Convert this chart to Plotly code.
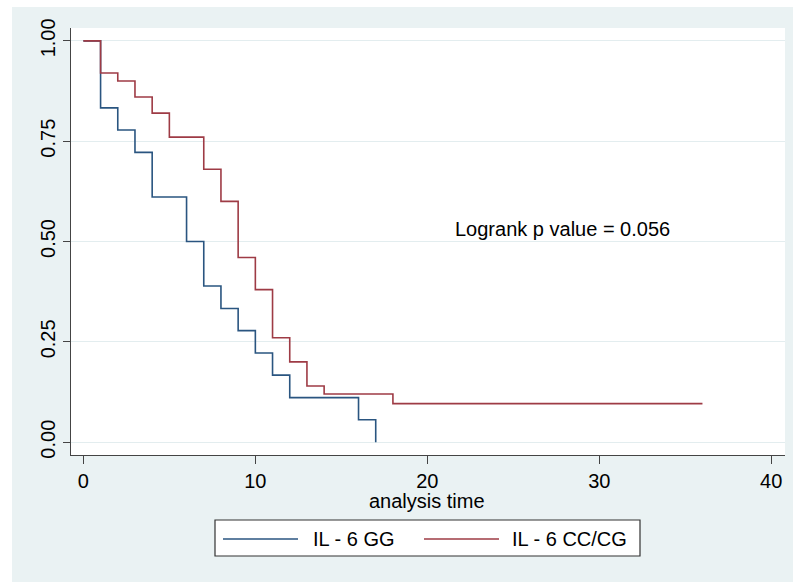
import plotly.graph_objects as go

# Kaplan-Meier estimates
gg_time = [0, 1, 2, 3, 4, 6, 7, 8, 9, 10, 11, 12, 16, 17]
gg_surv = [1.0, 0.833, 0.778, 0.722, 0.611, 0.500, 0.389, 0.333, 0.278, 0.222, 0.167, 0.111, 0.056, 0.0]

cc_time = [0, 1, 2, 3, 4, 5, 7, 8, 9, 10, 11, 12, 13, 14, 18, 36]
cc_surv = [1.0, 0.92, 0.90, 0.86, 0.82, 0.76, 0.68, 0.60, 0.46, 0.38, 0.26, 0.20, 0.14, 0.12, 0.096, 0.096]

series_names = ["IL - 6 GG", "IL - 6 CC/CG"]
series_colors = ["#2a5580", "#9e3b45"]

x_ticks = [0, 10, 20, 30, 40]
y_ticks = [0.0, 0.25, 0.5, 0.75, 1.0]
y_ticklabels = ["0.00", "0.25", "0.50", "0.75", "1.00"]

x_title = "analysis time"
note_text = "Logrank p value = 0.056"
note_x, note_y = 21.5, 0.531

FONT = "Liberation Sans, Arial, sans-serif"
BG = "#EAF2F3"

fig = go.Figure()
fig.add_trace(go.Scatter(x=gg_time, y=gg_surv, mode="lines", line_shape="hv",
                         line=dict(color=series_colors[0], width=1.6), name=series_names[0],
                         showlegend=False))
fig.add_trace(go.Scatter(x=cc_time, y=cc_surv, mode="lines", line_shape="hv",
                         line=dict(color=series_colors[1], width=1.6), name=series_names[1],
                         showlegend=False))

fig.add_annotation(x=note_x, y=note_y, text=note_text, showarrow=False,
                   xanchor="left", yanchor="middle", font=dict(family=FONT, size=20, color="#000"))

L, R, T, B, W, H = 71, 785, 28, 455, 793, 582
pw, ph = R - L, B - T
def px(xp): return (xp - L) / pw
def py(yp): return (B - yp) / ph

# x-axis title placed as text below the tick labels
fig.add_annotation(xref="paper", yref="paper", x=px(427), y=py(500.5), text=x_title,
                   showarrow=False, xanchor="center", yanchor="middle",
                   font=dict(family=FONT, size=20, color="#000"))

# white outer margins (left and top strips)
fig.add_shape(type="rect", xref="paper", yref="paper", x0=px(-2), x1=px(12), y0=py(H + 2), y1=py(-2),
              fillcolor="white", line_width=0, layer="below")
fig.add_shape(type="rect", xref="paper", yref="paper", x0=px(-2), x1=px(W + 2), y0=py(7), y1=py(-2),
              fillcolor="white", line_width=0, layer="below")

# legend box (Stata-style, below the x-axis title)
fig.add_shape(type="rect", xref="paper", yref="paper", x0=px(215), x1=px(640), y0=py(556), y1=py(520),
              fillcolor="white", line=dict(color="#333", width=1.2))
legend_line_x = [(223, 298), (424, 499)]
legend_text_x = [311, 510]
legend_y = 539
for name, color, (lx0, lx1), tx in zip(series_names, series_colors, legend_line_x, legend_text_x):
    fig.add_shape(type="line", xref="paper", yref="paper", x0=px(lx0), x1=px(lx1),
                  y0=py(legend_y), y1=py(legend_y), line=dict(color=color, width=1.6))
    fig.add_annotation(xref="paper", yref="paper", x=px(tx), y=py(legend_y), text=name,
                       showarrow=False, xanchor="left", yanchor="middle",
                       font=dict(family=FONT, size=20, color="#000"))

fig.update_layout(
    width=W, height=H,
    margin=dict(l=L, r=W - R, t=T, b=H - B),
    paper_bgcolor=BG, plot_bgcolor="white",
    font=dict(family=FONT, size=20, color="#000"),
    showlegend=False,
    xaxis=dict(range=[-0.72, 40.8], tickvals=x_ticks, showgrid=False, zeroline=False,
               showline=True, linecolor="#444", linewidth=1.2, ticks="outside", ticklen=8,
               tickcolor="#444", tickwidth=1.2, tickfont=dict(size=20)),
    yaxis=dict(range=[-0.032, 1.032], tickvals=y_ticks, ticktext=y_ticklabels, tickangle=-90,
               showgrid=True, gridcolor="#E3EDEF", gridwidth=1, zeroline=False,
               showline=True, linecolor="#444", linewidth=1.2, ticks="outside", ticklen=7,
               tickcolor="#444", tickwidth=1.2, tickfont=dict(size=20)),
)

fig.write_html("out.html")
